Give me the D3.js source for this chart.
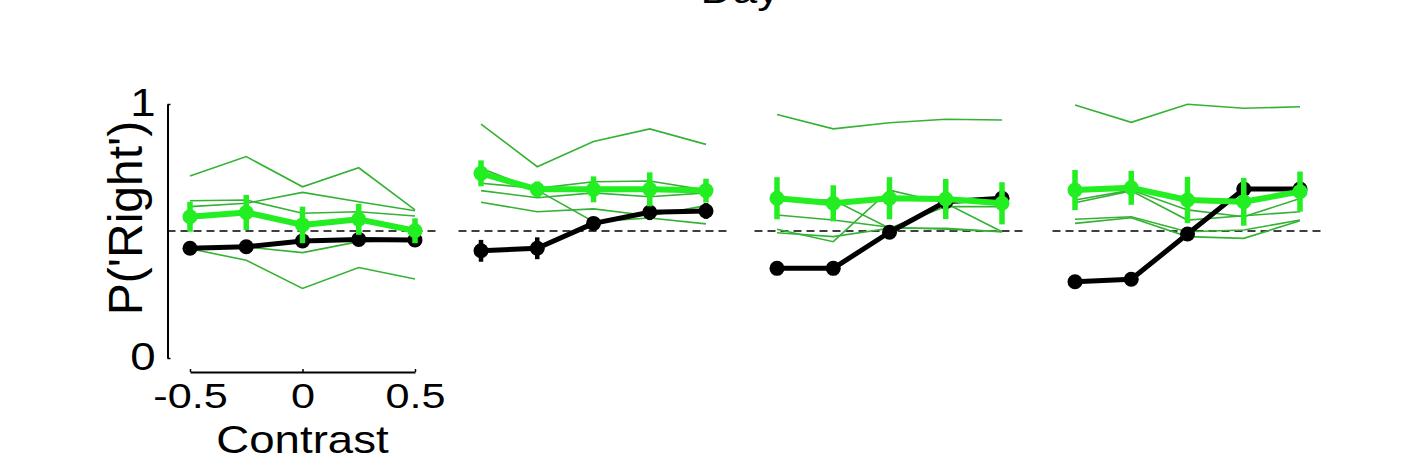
<!DOCTYPE html>
<html>
<head>
<meta charset="utf-8">
<script src="https://cdn.jsdelivr.net/npm/d3@7"></script>
<style>
  body { margin: 0; background: #fff; }
  text { font-family: "Liberation Sans", Arial, sans-serif; fill: #000; }
</style>
</head>
<body>
<div id="chart"></div>
<script>
// contrast levels (x) shared by every panel
const contrasts = [-0.5, -0.25, 0, 0.25, 0.5];
const xTicks = [-0.5, 0, 0.5];
const yTicks = [0, 1];

// black: mean P('Right') + error per panel
const blackMean = [
    [0.432, 0.438, 0.461, 0.467, 0.465],
    [0.422, 0.432, 0.530, 0.574, 0.579],
    [0.353, 0.353, 0.495, 0.615, 0.629],
    [0.300, 0.310, 0.488, 0.665, 0.665]
];
const blackErr = [
    [0.015, 0.015, 0.015, 0.015, 0.015],
    [0.043, 0.043, 0.020, 0.031, 0.031],
    [0.018, 0.018, 0.018, 0.018, 0.018],
    [0.020, 0.020, 0.020, 0.020, 0.020]
];

// green: mean + error per panel
const greenMean = [
    [0.556, 0.573, 0.524, 0.546, 0.501],
    [0.727, 0.664, 0.664, 0.664, 0.659],
    [0.629, 0.609, 0.629, 0.626, 0.609],
    [0.661, 0.670, 0.622, 0.615, 0.655]
];
const greenErr = [
    [0.059, 0.069, 0.072, 0.061, 0.049],
    [0.051, 0.031, 0.051, 0.067, 0.047],
    [0.083, 0.071, 0.083, 0.079, 0.083],
    [0.079, 0.067, 0.091, 0.094, 0.079]
];

// thin green lines, one per animal, per panel
const animals = [
    [
        [0.717, 0.793, 0.674, 0.749, 0.583],
        [0.619, 0.622, 0.570, 0.576, 0.559],
        [0.596, 0.609, 0.652, 0.615, 0.580],
        [0.433, 0.437, 0.415, 0.458, 0.465],
        [0.430, 0.385, 0.274, 0.356, 0.311]
    ],
    [
        [0.921, 0.753, 0.852, 0.902, 0.841],
        [0.747, 0.661, 0.537, 0.551, 0.528],
        [0.688, 0.668, 0.694, 0.697, 0.661],
        [0.659, 0.631, 0.650, 0.635, 0.650],
        [0.613, 0.576, 0.587, 0.560, 0.600]
    ],
    [
        [0.959, 0.902, 0.926, 0.940, 0.937],
        [0.563, 0.543, 0.515, 0.507, 0.497],
        [0.507, 0.458, 0.661, 0.609, 0.497],
        [0.493, 0.478, 0.511, 0.596, 0.596],
        [0.622, 0.622, 0.511, 0.511, 0.497]
    ],
    [
        [0.996, 0.928, 0.999, 0.983, 0.989],
        [0.622, 0.661, 0.583, 0.556, 0.628],
        [0.611, 0.658, 0.543, 0.560, 0.576],
        [0.546, 0.556, 0.497, 0.504, 0.543],
        [0.530, 0.552, 0.478, 0.471, 0.540]
    ]
];

const W = 1419, H = 468;
const panelLeft = [167.5, 458.5, 754.5, 1052.5];
const panelW = 270;
const stretch = 1.2;   // the source figure is a bit wide

const bright = "#22ee22";
const thin = "#34b234";

const svg = d3.select("#chart").append("svg")
    .attr("width", W)
    .attr("height", H);

const y = d3.scaleLinear().domain([0, 1]).range([358, 104]);

// title, mostly cut off at the top
svg.append("text")
    .attr("transform", "translate(740,3) scale(" + stretch + ",1)")
    .attr("text-anchor", "middle")
    .style("font-size", "37px")
    .text("Day");

panelLeft.forEach(function (left, p) {
    let x = d3.scaleLinear().domain([-0.6, 0.6]).range([left, left + panelW]);
    let g = svg.append("g");

    let line = d3.line()
        .x(function (d, i) { return x(contrasts[i]); })
        .y(function (d) { return y(d); });

    // chance level
    g.append("line")
        .attr("x1", x(-0.6)).attr("x2", x(0.6))
        .attr("y1", y(0.5)).attr("y2", y(0.5))
        .attr("stroke", "#000")
        .attr("stroke-width", 1.5)
        .attr("stroke-dasharray", "8,5");

    g.selectAll(".animal")
        .data(animals[p])
        .enter().append("path")
        .attr("class", "animal")
        .attr("d", line)
        .attr("fill", "none")
        .attr("stroke", thin)
        .attr("stroke-width", 1.6);

    // mean series: black first, green over it
    [[blackMean[p], blackErr[p], "#000", 5, 4.5],
     [greenMean[p], greenErr[p], bright, 6, 5.5]].forEach(function (s) {
        let m = s[0], e = s[1];
        g.append("path")
            .attr("d", line(m))
            .attr("fill", "none")
            .attr("stroke", s[2])
            .attr("stroke-width", s[3])
            .attr("stroke-linejoin", "round");
        g.selectAll(null)
            .data(m)
            .enter().append("line")
            .attr("x1", function (d, i) { return x(contrasts[i]); })
            .attr("x2", function (d, i) { return x(contrasts[i]); })
            .attr("y1", function (d, i) { return y(d - e[i]); })
            .attr("y2", function (d, i) { return y(d + e[i]); })
            .attr("stroke", s[2])
            .attr("stroke-width", s[4]);
        g.selectAll(null)
            .data(m)
            .enter().append("circle")
            .attr("cx", function (d, i) { return x(contrasts[i]); })
            .attr("cy", function (d) { return y(d); })
            .attr("r", 7.5)
            .attr("fill", s[2]);
    });

    if (p !== 0) return;

    // axes only on the first panel
    let yaxis = g.append("g")
        .attr("transform", "translate(" + x(-0.6) + ",0)")
        .call(d3.axisLeft(y).tickValues(yTicks).tickFormat(function (d) { return String(d); })
            .tickSizeInner(-3).tickSizeOuter(0).tickPadding(12));
    yaxis.select(".domain").attr("stroke-width", 2);
    yaxis.selectAll("text")
        .style("font-size", "38px")
        .attr("x", -12 / stretch)
        .attr("dy", "0.3em")
        .attr("transform", "scale(" + stretch + ",1)");

    let xs = x.copy().domain([-0.5, 0.5]).range([x(-0.5), x(0.5)]);
    let xaxis = g.append("g")
        .attr("transform", "translate(0,372)")
        .call(d3.axisBottom(xs).tickValues(xTicks).tickFormat(function (d) { return String(d); })
            .tickSizeInner(-3).tickSizeOuter(0).tickPadding(10));
    xaxis.select(".domain").attr("stroke-width", 2);
    xaxis.selectAll("text")
        .style("font-size", "36px")
        .attr("transform", "scale(" + stretch + ",1)");
    xaxis.selectAll(".tick line").attr("stroke-width", 1.5);
    yaxis.selectAll(".tick line").attr("stroke-width", 1.5);

    g.append("text")
        .attr("transform", "translate(" + x(0) + ",453) scale(" + stretch + ",1)")
        .attr("text-anchor", "middle")
        .style("font-size", "38px")
        .text("Contrast");

    g.append("text")
        .attr("transform", "translate(142,218) rotate(-90)")
        .attr("text-anchor", "middle")
        .style("font-size", "48px")
        .text("P('Right')");
});
</script>
</body>
</html>
